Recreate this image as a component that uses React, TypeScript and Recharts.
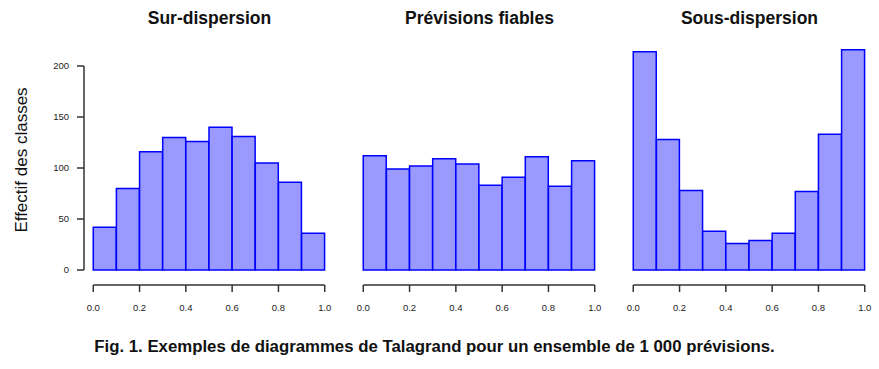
import React from 'react';
import { BarChart, Bar, XAxis, YAxis, ReferenceLine } from 'recharts';

// centres des classes (rangs normalisés)
const binCenters = [0.05, 0.15, 0.25, 0.35, 0.45, 0.55, 0.65, 0.75, 0.85, 0.95];
const xTicks = [0, 0.2, 0.4, 0.6, 0.8, 1.0];
const yTicks = [0, 50, 100, 150, 200];

const surDispersion = [42, 80, 116, 130, 126, 140, 131, 105, 86, 36];
const previsionsFiables = [112, 99, 102, 109, 104, 83, 91, 111, 82, 107];
const sousDispersion = [214, 128, 78, 38, 26, 29, 36, 77, 133, 216];

const titles = ['Sur-dispersion', 'Prévisions fiables', 'Sous-dispersion'];
const yLabel = 'Effectif des classes';
const caption = 'Fig. 1. Exemples de diagrammes de Talagrand pour un ensemble de 1 000 prévisions.';

// style R : axes détachés (étendue +4 %)
const X_DOMAIN: [number, number] = [-0.04, 1.04];
const Y_DOMAIN: [number, number] = [-14.7, 225.5];

const FONT = '"Liberation Sans", Arial, Helvetica, sans-serif';
const AXIS_COLOR = '#333';

interface PanelProps {
  values: number[];
  showY: boolean;
  left: number;
}

const Panel: React.FC<PanelProps> = ({ values, showY, left }) => {
  const data = binCenters.map((x, i) => ({ x, n: values[i] }));
  return (
    <div style={{ position: 'absolute', left, top: 0 }}>
      <BarChart
        width={334}
        height={320}
        data={data}
        barCategoryGap={0}
        barGap={0}
        margin={{ top: 40, right: 0, bottom: 0, left: showY ? 0 : 84 }}
      >
        <XAxis
          dataKey="x"
          type="number"
          domain={X_DOMAIN}
          ticks={xTicks}
          tickFormatter={(v: number) => v.toFixed(1)}
          axisLine={false}
          tickSize={7}
          tickMargin={12}
          height={35}
          tick={{ fontSize: 9.5, fill: '#222', fontFamily: FONT }}
          tickLine={{ stroke: AXIS_COLOR, strokeWidth: 1.5 }}
          allowDataOverflow
        />
        <YAxis
          type="number"
          domain={Y_DOMAIN}
          ticks={yTicks}
          hide={!showY}
          width={84}
          axisLine={false}
          tickSize={7}
          tickMargin={8}
          tick={{ fontSize: 9.5, fill: '#222', fontFamily: FONT }}
          tickLine={{ stroke: AXIS_COLOR, strokeWidth: 1.5 }}
          allowDataOverflow
        />
        <ReferenceLine
          segment={[{ x: 0, y: Y_DOMAIN[0] }, { x: 1, y: Y_DOMAIN[0] }]}
          stroke={AXIS_COLOR}
          strokeWidth={1.5}
          ifOverflow="visible"
        />
        {showY && (
          <ReferenceLine
            segment={[{ x: X_DOMAIN[0], y: 0 }, { x: X_DOMAIN[0], y: 200 }]}
            stroke={AXIS_COLOR}
            strokeWidth={1.5}
            ifOverflow="visible"
          />
        )}
        <Bar
          dataKey="n"
          fill="#9999ff"
          stroke="#0000ff"
          strokeWidth={1.5}
          isAnimationActive={false}
        />
      </BarChart>
    </div>
  );
};

export default function App() {
  const series = [surDispersion, previsionsFiables, sousDispersion];
  return (
    <div
      style={{
        position: 'absolute',
        left: 0,
        top: 0,
        width: 879,
        height: 369,
        background: '#fff',
        fontFamily: FONT,
        overflow: 'hidden'
      }}
    >
      {series.map((vals, i) => (
        <Panel key={i} values={vals} showY={i === 0} left={i * 270} />
      ))}
      {titles.map((t, i) => (
        <div
          key={t}
          style={{
            position: 'absolute',
            left: 94 + i * 270 - 60,
            width: 351,
            top: 8,
            textAlign: 'center',
            fontSize: 17.5,
            fontWeight: 'bold',
            color: '#111'
          }}
        >
          {t}
        </div>
      ))}
      <div
        style={{
          position: 'absolute',
          left: 22 - 100,
          top: 160 - 10,
          width: 200,
          height: 20,
          lineHeight: '20px',
          textAlign: 'center',
          fontSize: 17,
          color: '#111',
          transform: 'rotate(-90deg)'
        }}
      >
        {yLabel}
      </div>
      <div
        style={{
          position: 'absolute',
          left: 0,
          width: 869,
          top: 337,
          textAlign: 'center',
          fontSize: 16.8,
          fontWeight: 'bold',
          fontFamily: '"Liberation Sans Narrow", "Liberation Sans", Arial, sans-serif',
          color: '#111'
        }}
      >
        {caption}
      </div>
    </div>
  );
}
